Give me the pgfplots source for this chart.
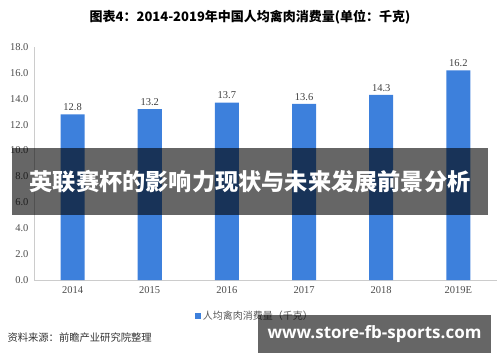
\documentclass[border=0pt]{standalone}
\usepackage{fontspec}
\setmainfont{Liberation Serif}
\newfontfamily\cjk{Noto Sans CJK SC}
\newfontfamily\wm{Open Sans}
\usepackage{pgfplots}
\pgfplotsset{compat=1.18}
\definecolor{barblue}{RGB}{61,128,220}
\begin{document}
\begin{tikzpicture}[x=1pt,y=1pt]
\useasboundingbox (0,0) rectangle (500,362);
\begin{axis}[
  at={(34pt,82pt)}, anchor=origin,
  scale only axis, width=463pt, height=233pt,
  ymin=0, ymax=18, ytick={0,2,...,18},
  xmin=0, xmax=6, xtick={0.5,1.5,...,5.5},
  xticklabels={2014,2015,2016,2017,2018,2019E},
  axis x line*=bottom, axis y line*=left,
  axis line style={black!20, line width=0.8pt},
  major tick length=0pt,
  /pgf/number format/assume math mode=true,
  yticklabel style={/pgf/number format/fixed, /pgf/number format/fixed zerofill, /pgf/number format/precision=1, xshift=-2pt},
  tick label style={font=\fontsize{10.5}{12}\selectfont, text=black!70},
  xticklabel style={yshift=-3pt},
  ybar, bar width=24pt,
  nodes near coords,
  nodes near coords style={font=\fontsize{10.5}{12}\selectfont, text=black!75,
    /pgf/number format/fixed, /pgf/number format/fixed zerofill, /pgf/number format/precision=1, /pgf/number format/assume math mode=true},
  legend style={at={(0.477,-0.155)}, anchor=center, draw=none, fill=none,
    font=\cjk\fontsize{10}{12}\selectfont, text=black!65},
  legend image code/.code={\fill[barblue] (0,-3pt) rectangle (6pt,3pt);},
]
\addplot[fill=barblue, draw=none] coordinates {(0.5,12.8) (1.5,13.2) (2.5,13.7) (3.5,13.6) (4.5,14.3) (5.5,16.2)};
\addlegendentry{人均禽肉消费量（千克）}
\end{axis}
\node at (250,345) {\cjk\bfseries\fontsize{13}{15}\selectfont 图表4：2014-2019年中国人均禽肉消费量(单位：千克)};
\node[anchor=west, text=black!80] at (4,24) {\cjk\fontsize{10.3}{12}\selectfont 资料来源：前瞻产业研究院整理};
\fill[black, opacity=0.6] (12,147) rectangle (488,214);
\node[text=white] at (250,180.5) {\cjk\bfseries\fontsize{23.2}{26}\selectfont 英联赛杯的影响力现状与未来发展前景分析};
\fill[black, opacity=0.6] (258,9) rectangle (491,47);
\node[text=white] at (374.5,28) {\wm\bfseries\fontsize{17}{20}\selectfont www.store-fb-sports.com};
\end{tikzpicture}
\end{document}
